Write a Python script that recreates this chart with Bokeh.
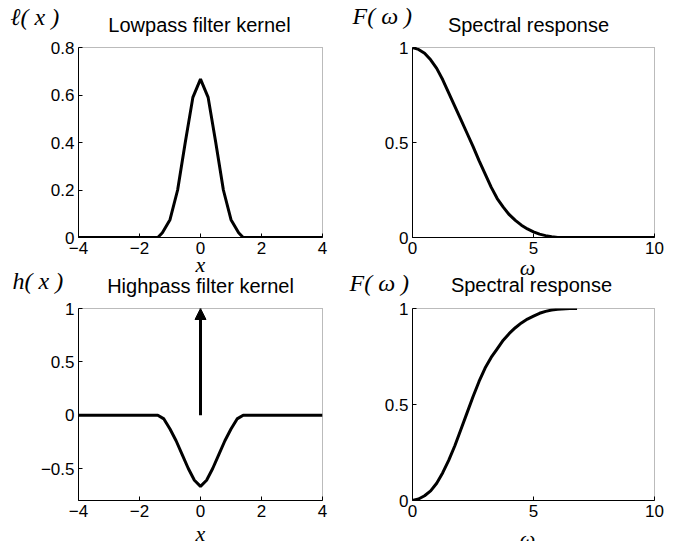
from bokeh.plotting import figure
from bokeh.models import (LinearAxis, Arrow, NormalHead, FixedTicker,
                          Range1d, ColumnDataSource)
from bokeh.core.properties import value
from bokeh.layouts import row, column
from bokeh.embed import file_html
from bokeh.resources import INLINE

# ---------------- data ----------------
# lowpass kernel l(x)
lp_x = [-4.0, -1.4, -1.25, -1.0, -0.75, -0.5, -0.25, 0.0, 0.25, 0.5, 0.75, 1.0, 1.25, 1.4, 4.0]
lp_y = [0.0, 0.0, 0.02, 0.075, 0.20, 0.40, 0.59, 0.667, 0.59, 0.40, 0.20, 0.075, 0.02, 0.0, 0.0]

# highpass kernel h(x) (continuous part)
hp_x = [-4.0, -1.4, -1.2, -1.0, -0.8, -0.6, -0.4, -0.2, 0.0, 0.2, 0.4, 0.6, 0.8, 1.0, 1.2, 1.4, 4.0]
hp_y = [0.0, 0.0, -0.035, -0.13, -0.24, -0.37, -0.50, -0.61, -0.667, -0.61, -0.50, -0.37, -0.24, -0.13, -0.035, 0.0, 0.0]

# delta impulse of the highpass kernel
delta_x = [0.0]
delta_h = [1.0]

# lowpass spectral response
w_lp = [0, 0.25, 0.5, 0.75, 1, 1.25, 1.5, 1.75, 2, 2.25, 2.5, 2.75, 3, 3.25, 3.5, 3.75,
        4, 4.25, 4.5, 4.75, 5, 5.25, 5.5, 5.75, 6, 6.5, 7, 8, 9, 10]
F_lp = [1.0, 0.99, 0.97, 0.935, 0.89, 0.83, 0.76, 0.69, 0.62, 0.55, 0.48, 0.405, 0.335, 0.265,
        0.205, 0.16, 0.12, 0.09, 0.065, 0.045, 0.03, 0.018, 0.01, 0.004, 0.0, 0.0, 0.0, 0.0, 0.0, 0.0]

# highpass spectral response
w_hp = [0, 0.25, 0.5, 0.75, 1, 1.25, 1.5, 1.75, 2, 2.25, 2.5, 2.75, 3, 3.25, 3.5, 3.75,
        4, 4.25, 4.5, 4.75, 5, 5.25, 5.5, 5.75, 6, 6.5, 6.8]
F_hp = [0.0, 0.008, 0.025, 0.05, 0.09, 0.145, 0.21, 0.285, 0.37, 0.455, 0.54, 0.62, 0.69, 0.745,
        0.79, 0.835, 0.87, 0.9, 0.925, 0.945, 0.96, 0.975, 0.985, 0.992, 0.996, 1.0, 1.0]

titles = ["Lowpass filter kernel", "Spectral response", "Highpass filter kernel", "Spectral response"]
ylabels = ["\u2113( x )", "F( \u03c9 )", "h( x )", "F( \u03c9 )"]
xlabels = ["x", "\u03c9", "x", "\u03c9"]

kx_ticks = [-4, -2, 0, 2, 4]
kx_labels = ["\u22124", "\u22122", "0", "2", "4"]
wx_ticks = [0, 5, 10]
wx_labels = ["0", "5", "10"]
lp_ticks = [0, 0.2, 0.4, 0.6, 0.8]
lp_labels = ["0", "0.2", "0.4", "0.6", "0.8"]
hp_ticks = [-0.5, 0, 0.5, 1]
hp_labels = ["\u22120.5", "0", "0.5", "1"]
f_ticks = [0, 0.5, 1]
f_labels = ["0", "0.5", "1"]

SANS = "Liberation Sans"
SERIF = "Liberation Serif"
TICK_FS = "17px"
TITLE_FS = "20px"
LAB_FS = "24px"
XLAB_FS = "22px"
W = 678


def panel(width, height, bl, br, bt, bb, xr, yr, xt, xtl, yt, ytl):
    p = figure(width=width, height=height, x_range=Range1d(*xr), y_range=Range1d(*yr),
               output_backend="svg", toolbar_location=None,
               min_border_left=bl, min_border_right=br, min_border_top=bt, min_border_bottom=bb,
               x_axis_location=None, y_axis_location=None)
    p.title.visible = False
    p.grid.visible = False
    p.outline_line_color = "#777777"
    p.outline_line_dash = "1 1"
    p.outline_line_width = 1
    p.background_fill_color = "white"
    p.border_fill_color = "white"
    for loc, ticks, labs in (("below", xt, xtl), ("left", yt, ytl)):
        ax = LinearAxis(ticker=FixedTicker(ticks=ticks))
        ax.major_label_overrides = {t: l for t, l in zip(ticks, labs)}
        ax.minor_tick_line_color = None
        ax.major_tick_in = 4
        ax.major_tick_out = 0
        ax.major_tick_line_color = "black"
        ax.axis_line_color = "black"
        ax.major_label_standoff = 4
        ax.major_label_text_font = SANS
        ax.major_label_text_font_size = TICK_FS
        ax.major_label_text_color = "black"
        p.add_layout(ax, loc)
    return p


def strip(height):
    # a text-only band across the whole page; its coordinates are page pixels
    s = figure(width=W, height=height, x_range=Range1d(0, W), y_range=Range1d(height, 0),
               output_backend="svg", toolbar_location=None,
               min_border=0, x_axis_location=None, y_axis_location=None)
    s.title.visible = False
    s.grid.visible = False
    s.outline_line_color = None
    s.background_fill_color = "white"
    s.border_fill_color = "white"
    return s


def put(s, xs, ys, texts, font, size, align, style="normal"):
    s.text(x=xs, y=ys, text=texts, text_font=value(font), text_font_size=value(size),
           text_font_style=style, text_align=align, text_baseline="alphabetic",
           text_color="black")


# ---- top text band (page y 0..38) ----
sA = strip(38)
put(sA, [199, 528], [24, 24], [titles[0], titles[1]], SANS, TITLE_FS, "center")
put(sA, [10, 352], [16, 15], [ylabels[0], ylabels[1]], SERIF, LAB_FS, "left", "italic")

# ---- top row (page y 38..260) ----
p1 = panel(340, 222, 78, 18, 9, 23, (-4, 4), (0, 0.8), kx_ticks, kx_labels, lp_ticks, lp_labels)
p1.line(lp_x, lp_y, line_width=3, line_color="black")

p2 = panel(338, 222, 72, 24, 9, 23, (0, 10), (0, 1), wx_ticks, wx_labels, f_ticks, f_labels)
p2.line(w_lp, F_lp, line_width=3, line_color="black")

# ---- middle text band (page y 260..299) ----
sB = strip(39)
put(sB, [200, 527], [4, 7], [xlabels[0], xlabels[1]], SERIF, XLAB_FS, "center", "italic")
put(sB, [200, 531], [25, 24], [titles[2], titles[3]], SANS, TITLE_FS, "center")
put(sB, [12, 349], [20, 22], [ylabels[2], ylabels[3]], SERIF, LAB_FS, "left", "italic")

# ---- bottom row (page y 299..526) ----
p3 = panel(340, 227, 78, 18, 9, 26, (-4, 4), (-0.8, 1), kx_ticks, kx_labels, hp_ticks, hp_labels)
p3.line(hp_x, hp_y, line_width=3, line_color="black")
src = ColumnDataSource(dict(x0=delta_x, y0=[0.0] * len(delta_x), x1=delta_x, y1=delta_h))
p3.add_layout(Arrow(end=NormalHead(size=11, fill_color="black", line_color="black"),
                    x_start="x0", y_start="y0", x_end="x1", y_end="y1", source=src,
                    line_width=3, line_color="black"))

p4 = panel(338, 227, 72, 24, 9, 26, (0, 10), (0, 1), wx_ticks, wx_labels, f_ticks, f_labels)
p4.line(w_hp, F_hp, line_width=3, line_color="black")

# ---- bottom text band (page y 526..541) ----
sC = strip(15)
put(sC, [200, 527], [7, 12], [xlabels[2], xlabels[3]], SERIF, XLAB_FS, "center", "italic")

layout = column(sA, row(p1, p2), sB, row(p3, p4), sC)
open("out.html", "w").write(file_html(layout, INLINE))
